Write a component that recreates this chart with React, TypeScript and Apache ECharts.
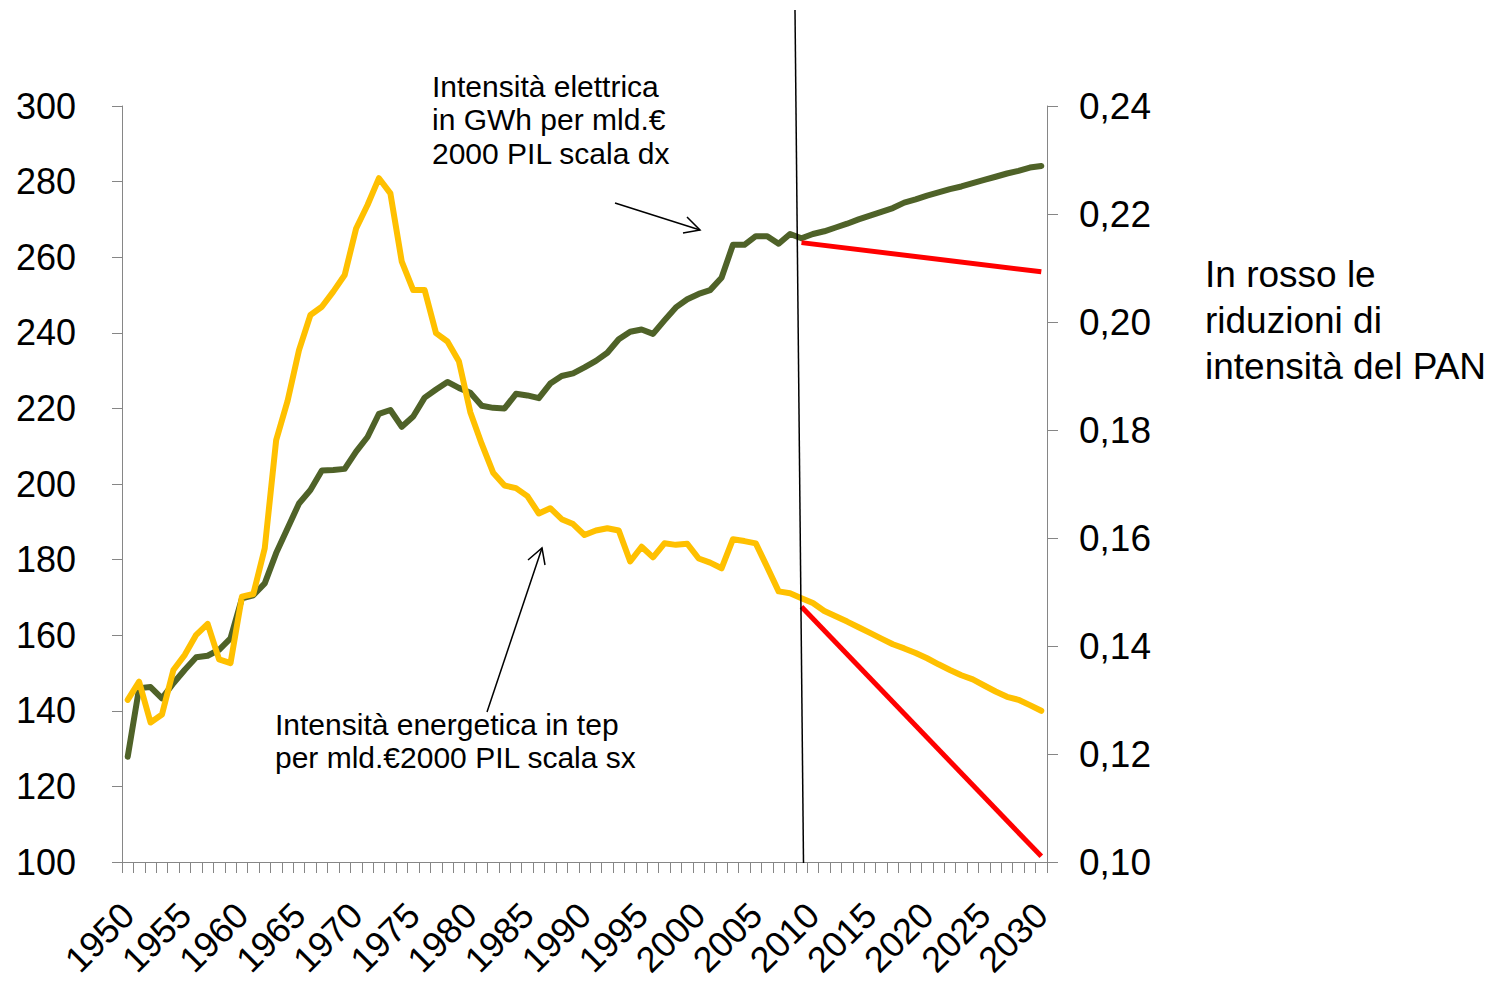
import React, { useEffect, useRef } from "react";
import * as echarts from "echarts";

const years: string[] = Array.from({ length: 81 }, (_, i) => String(1950 + i));

// Intensità energetica (tep per mld.€2000 PIL) – left axis
const energyIntensity: number[] = [
  142.9, 147.7, 136.9, 139.0, 150.8, 154.8, 160.1, 163.0, 153.6, 152.6,
  170.2, 170.9, 183.0, 211.6, 222.0, 235.4, 244.7, 246.9, 250.9, 255.3,
  267.6, 273.8, 280.9, 276.9, 258.8, 251.3, 251.3, 239.9, 237.7, 232.5,
  219.0, 210.6, 203.0, 199.6, 198.9, 196.8, 192.2, 193.6, 190.7, 189.4,
  186.5, 187.7, 188.3, 187.7, 179.5, 183.4, 180.6, 184.3, 183.9, 184.2,
  180.3, 179.2, 177.7, 185.4, 184.9, 184.3, 178.0, 171.6, 171.1, 169.8,
  168.5, 166.4, 165.0, 163.6, 162.1, 160.6, 159.1, 157.6, 156.5, 155.3,
  153.9, 152.3, 150.8, 149.4, 148.3, 146.7, 145.1, 143.7, 142.9, 141.5,
  140.0,
];

// Intensità elettrica (GWh per mld.€2000 PIL) – right axis
const electricIntensity: number[] = [
  0.1195, 0.1322, 0.1324, 0.1303, 0.1331, 0.1356, 0.1379, 0.1382, 0.1393, 0.1414,
  0.1488, 0.1494, 0.1516, 0.1572, 0.1618, 0.1664, 0.1689, 0.1725, 0.1726, 0.1728,
  0.1760, 0.1787, 0.1830, 0.1837, 0.1806, 0.1825, 0.1860, 0.1875, 0.1889, 0.1878,
  0.1869, 0.1845, 0.1841, 0.1840, 0.1867, 0.1864, 0.1859, 0.1886, 0.1900, 0.1905,
  0.1916, 0.1928, 0.1943, 0.1968, 0.1982, 0.1986, 0.1978, 0.2003, 0.2027, 0.2042,
  0.2052, 0.2059, 0.2082, 0.2143, 0.2143, 0.2159, 0.2159, 0.2145, 0.2163, 0.2155,
  0.2163, 0.2168, 0.2175, 0.2182, 0.2190, 0.2197, 0.2204, 0.2211, 0.2221, 0.2227,
  0.2234, 0.2240, 0.2246, 0.2251, 0.2257, 0.2263, 0.2269, 0.2275, 0.2280, 0.2286,
  0.2289,
];

// PAN reductions (red)
const panYears: string[] = ["2009", "2030"];
const panElectric: number[] = [0.2147, 0.2093];
const panEnergy: number[] = [167.5, 101.5];

const leftTicks = { min: 100, max: 300, interval: 20 };
const rightTicks = { min: 0.1, max: 0.24, interval: 0.02 };

const FONT = "'Liberation Sans', Arial, sans-serif";

export default function App() {
  const ref = useRef<HTMLDivElement>(null);

  useEffect(() => {
    if (!ref.current) return;
    const chart = echarts.init(ref.current, undefined, { renderer: "svg" });
    const axisColor = "#868686";

    const toPairs = (ys: string[], vs: number[]) =>
      ys.map((y, i) => [years.indexOf(y), vs[i]]);

    const arrowStyle = { stroke: "#000", lineWidth: 1.5, fill: "none" };

    const textLine = (text: string, x: number, y: number, size: number) => ({
      type: "text",
      x,
      y,
      silent: true,
      style: {
        text,
        fontSize: size,
        fontFamily: FONT,
        fill: "#000",
        align: "left",
        verticalAlign: "middle",
      },
    });

    chart.setOption({
      animation: false,
      backgroundColor: "#fff",
      grid: { left: 122, right: 443, top: 106, bottom: 122, containLabel: false },
      xAxis: {
        type: "category",
        data: years,
        boundaryGap: true,
        axisLine: { lineStyle: { color: axisColor, width: 1 } },
        axisTick: { show: true, interval: 0, length: 11, lineStyle: { color: axisColor } },
        axisLabel: {
          interval: 4,
          rotate: 45,
          margin: 47,
          fontSize: 36,
          fontFamily: FONT,
          color: "#000",
        },
        splitLine: { show: false },
      },
      yAxis: [
        {
          type: "value",
          min: leftTicks.min,
          max: leftTicks.max,
          interval: leftTicks.interval,
          axisLine: { show: true, lineStyle: { color: axisColor, width: 1 } },
          axisTick: { show: true, length: 10, lineStyle: { color: axisColor } },
          axisLabel: { fontSize: 36, fontFamily: FONT, color: "#000", margin: 46 },
          splitLine: { show: false },
        },
        {
          type: "value",
          min: rightTicks.min,
          max: rightTicks.max,
          interval: rightTicks.interval,
          position: "right",
          axisLine: { show: true, lineStyle: { color: axisColor, width: 1 } },
          axisTick: { show: true, length: 11, lineStyle: { color: axisColor } },
          axisLabel: {
            fontSize: 37,
            fontFamily: FONT,
            color: "#000",
            margin: 32,
            formatter: (v: number) => v.toFixed(2).replace(".", ","),
          },
          splitLine: { show: false },
        },
      ],
      series: [
        {
          name: "Intensità elettrica",
          type: "line",
          yAxisIndex: 1,
          data: electricIntensity,
          symbol: "none",
          lineStyle: { color: "#4F6228", width: 6, join: "round", cap: "round" },
          z: 2,
        },
        {
          name: "Intensità energetica",
          type: "line",
          yAxisIndex: 0,
          data: energyIntensity,
          symbol: "none",
          lineStyle: { color: "#FFC000", width: 6, join: "round", cap: "round" },
          z: 3,
        },
        {
          name: "PAN elettrica",
          type: "line",
          yAxisIndex: 1,
          data: toPairs(panYears, panElectric),
          symbol: "none",
          lineStyle: { color: "#FF0000", width: 5 },
          z: 4,
        },
        {
          name: "PAN energetica",
          type: "line",
          yAxisIndex: 0,
          data: toPairs(panYears, panEnergy),
          symbol: "none",
          lineStyle: { color: "#FF0000", width: 5 },
          z: 4,
        },
      ],
      graphic: [
        {
          type: "line",
          silent: true,
          shape: { x1: 795, y1: 10, x2: 803.5, y2: 863 },
          style: { stroke: "#000", lineWidth: 1.5 },
          z: 10,
        },
        // arrow to electric intensity
        { type: "line", silent: true, shape: { x1: 615, y1: 203, x2: 700, y2: 230 }, style: arrowStyle, z: 10 },
        {
          type: "polyline",
          silent: true,
          shape: { points: [[687, 217], [700, 230], [683, 233]] },
          style: arrowStyle,
          z: 10,
        },
        // arrow to energy intensity
        { type: "line", silent: true, shape: { x1: 487, y1: 712, x2: 542, y2: 548 }, style: arrowStyle, z: 10 },
        {
          type: "polyline",
          silent: true,
          shape: { points: [[528, 560], [542, 548], [545, 565]] },
          style: arrowStyle,
          z: 10,
        },
        textLine("Intensità elettrica", 432, 86, 30),
        textLine("in GWh per mld.€", 432, 119, 30),
        textLine("2000 PIL scala dx", 432, 153, 30),
        textLine("Intensità energetica in tep", 275, 724, 30),
        textLine("per mld.€2000 PIL scala sx", 275, 757, 30),
        textLine("In rosso le", 1205, 274, 37),
        textLine("riduzioni di", 1205, 320, 37),
        textLine("intensità del PAN", 1205, 366, 37),
      ],
    });

    return () => chart.dispose();
  }, []);

  return (
    <div
      ref={ref}
      style={{ position: "fixed", left: 0, top: 0, width: 1490, height: 984, background: "#fff" }}
    />
  );
}
